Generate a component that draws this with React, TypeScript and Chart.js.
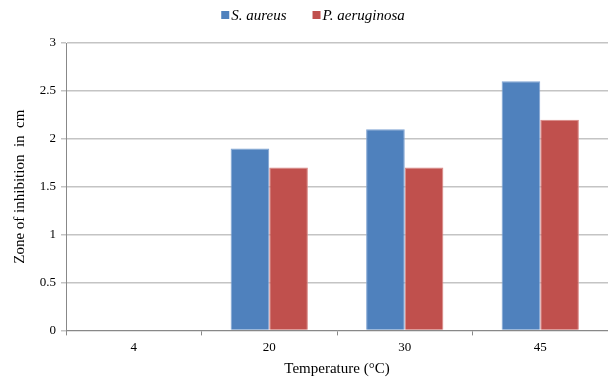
import React, { useEffect, useRef } from "react";
import { Chart, registerables } from "chart.js";

Chart.register(...registerables);

const categories = ["4", "20", "30", "45"];
const sAureus = [0, 1.9, 2.1, 2.6];
const pAeruginosa = [0, 1.7, 1.7, 2.2];
const seriesNames = ["S. aureus", "P. aeruginosa"];
const seriesColors = ["#4F81BD", "#C0504D"];
const yTitle = "Zone of inhibition  in  cm";
const xTitle = "Temperature (\u00B0C)";

const FONT = "'Liberation Serif', 'Times New Roman', serif";

const topLegend = {
  id: "topLegend",
  afterDraw(chart: any) {
    const ctx = chart.ctx;
    ctx.save();
    ctx.font = "italic 15px " + FONT;
    ctx.textBaseline = "middle";
    ctx.textAlign = "left";
    const box = 8;
    const gapText = 2;
    const gapItem = 26;
    const widths = seriesNames.map((n) => ctx.measureText(n).width);
    let total = 0;
    widths.forEach((w, i) => {
      total += box + gapText + w + (i < widths.length - 1 ? gapItem : 0);
    });
    let x = 313 - total / 2;
    const y = 15;
    seriesNames.forEach((n, i) => {
      ctx.fillStyle = seriesColors[i];
      ctx.fillRect(x, y - box / 2, box, box);
      x += box + gapText;
      ctx.fillStyle = "#000";
      ctx.fillText(n, x, y + 1);
      x += widths[i] + gapItem;
    });
    ctx.restore();
  },
};

export default function App() {
  const ref = useRef<HTMLCanvasElement | null>(null);
  useEffect(() => {
    document.body.style.margin = "0";
    const chart = new Chart(ref.current!, {
      type: "bar",
      plugins: [topLegend],
      data: {
        labels: categories,
        datasets: [
          {
            label: seriesNames[0],
            data: sAureus,
            backgroundColor: seriesColors[0],
            borderColor: "#7FA3D3",
            borderWidth: 1,
          },
          {
            label: seriesNames[1],
            data: pAeruginosa,
            backgroundColor: seriesColors[1],
            borderColor: "#D98583",
            borderWidth: 1,
          },
        ],
      },
      options: {
        animation: false,
        responsive: false,
        maintainAspectRatio: false,
        layout: { padding: { left: 0, right: 0, top: 43, bottom: 2 } },
        datasets: { bar: { categoryPercentage: 0.57, barPercentage: 1 } },
        plugins: {
          tooltip: { enabled: false },
          legend: { display: false },
        },
        scales: {
          x: {
            grid: {
              display: true,
              drawOnChartArea: false,
              drawTicks: true,
              tickLength: 5,
              offset: true,
              color: "#888",
            },
            border: { color: "#888" },
            ticks: { color: "#000", font: { family: FONT, size: 13 }, padding: 4 },
            title: {
              display: true,
              text: xTitle,
              color: "#000",
              font: { family: FONT, size: 15 },
              padding: { top: 1, bottom: 0 },
            },
          },
          y: {
            min: 0,
            max: 3,
            ticks: {
              stepSize: 0.5,
              color: "#000",
              font: { family: FONT, size: 13 },
              padding: 5,
              callback: (v: any) => String(Number(v)),
            },
            grid: { color: "#C4C4C4", tickLength: 5, lineWidth: 1.5 },
            border: { color: "#888" },
            title: {
              display: true,
              text: yTitle,
              color: "#000",
              font: { family: FONT, size: 15 },
              padding: { top: 11, bottom: 4 },
            },
            afterFit: (scale: any) => {
              scale.width = 66;
            },
          },
        },
      },
    });
    return () => chart.destroy();
  }, []);
  return (
    <div style={{ position: "absolute", left: 0, top: 0, width: 608, height: 380, background: "#fff" }}>
      <canvas ref={ref} width={608} height={380} />
    </div>
  );
}
